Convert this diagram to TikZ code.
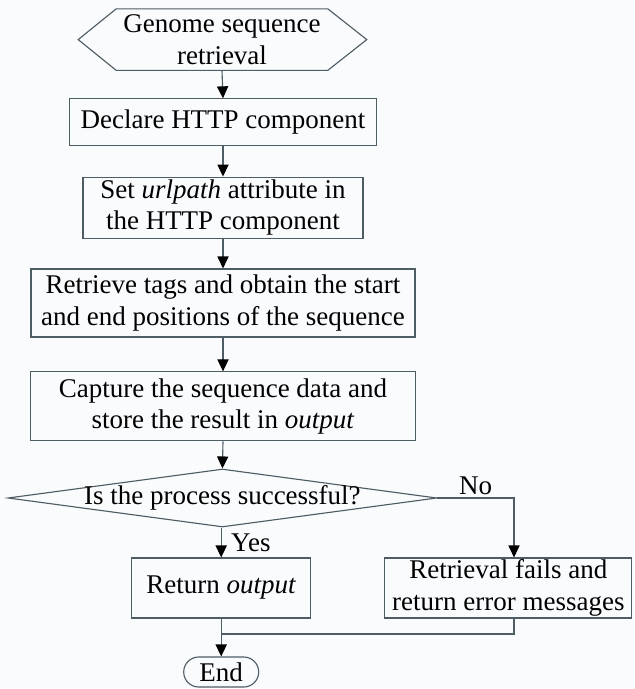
\documentclass[tikz,border=0pt]{standalone}
\usepackage{fontspec}
\setmainfont{Liberation Serif}
\usetikzlibrary{arrows.meta,shapes.geometric,shapes.misc}

\definecolor{linegray}{RGB}{78,92,100}
\definecolor{paper}{RGB}{250,251,253}

\begin{document}
\begin{tikzpicture}[
  font=\fontsize{19.2}{22.4}\selectfont,
  conn/.style={draw=linegray,thick},
  proc/.style={conn,rectangle,inner sep=0pt,align=center},
  arr/.style={conn,-{Triangle[length=3mm,width=2.8mm,color=black]}}
]

\fill[paper] (0,0) rectangle (15.875,-17.225);
\useasboundingbox (0,0) rectangle (15.875,-17.225);

\node (hex) at (5.55,-0.99)[inner sep=0pt,minimum width=5.275cm,minimum height=1.525cm,align=center]{Genome sequence\\retrieval};
\draw[conn] (hex.north west) -- (hex.north east) -- ([xshift=0.975cm]hex.east) -- (hex.south east) -- (hex.south west) -- ([xshift=-0.95cm]hex.west) -- cycle;

\node (decl) at (5.575,-3.06)[proc,minimum width=7.675cm,minimum height=1.175cm]{Declare HTTP component};
\node (attr) at (5.575,-5.19)[proc,minimum width=7cm,minimum height=1.525cm]{Set \textit{urlpath} attribute in\\the HTTP component};
\node (tags) at (5.575,-7.575)[proc,minimum width=9.6cm,minimum height=1.7cm]{Retrieve tags and obtain the start\\and end positions of the sequence};
\node (capt) at (5.575,-10.16)[proc,minimum width=9.625cm,minimum height=1.725cm]{Capture the sequence data and\\store the result in \textit{output}};

\node (dia) at (5.56,-12.45)[diamond,conn,inner sep=0pt,minimum width=10.725cm,minimum height=1.45cm]{\makebox[0pt]{Is the process successful?}};

\node (ret) at (5.53,-14.7)[proc,minimum width=4.475cm,minimum height=1.5cm]{Return \textit{output}};
\node (fail) at (12.71,-14.7)[proc,minimum width=6.175cm,minimum height=1.5cm]{Retrieval fails and\\return error messages};

\node (endn) at (5.53,-16.8)[rounded rectangle,conn,inner sep=0pt,minimum width=1.875cm,minimum height=0.75cm]{End};
\coordinate (join) at (5.53,-15.85);

\draw[arr] (hex.south) -- (decl.north);
\draw[arr] (decl.south) -- (attr.north);
\draw[arr] (attr.south) -- (tags.north);
\draw[arr] (tags.south) -- (capt.north);
\draw[arr] (capt.south) -- (dia.north);

\draw[arr] (dia.east) -| node[pos=0.25,above,inner sep=2pt]{No} ([xshift=0.14cm]fail.north);
\draw[arr] (ret.north |- dia.south) -- node[right=0.12cm]{Yes} (ret.north);

\draw[conn] (ret.south) -- (join);
\draw[conn] ([xshift=0.14cm]fail.south) |- (join);
\draw[arr] (join) -- (endn.north);

\end{tikzpicture}
\end{document}
